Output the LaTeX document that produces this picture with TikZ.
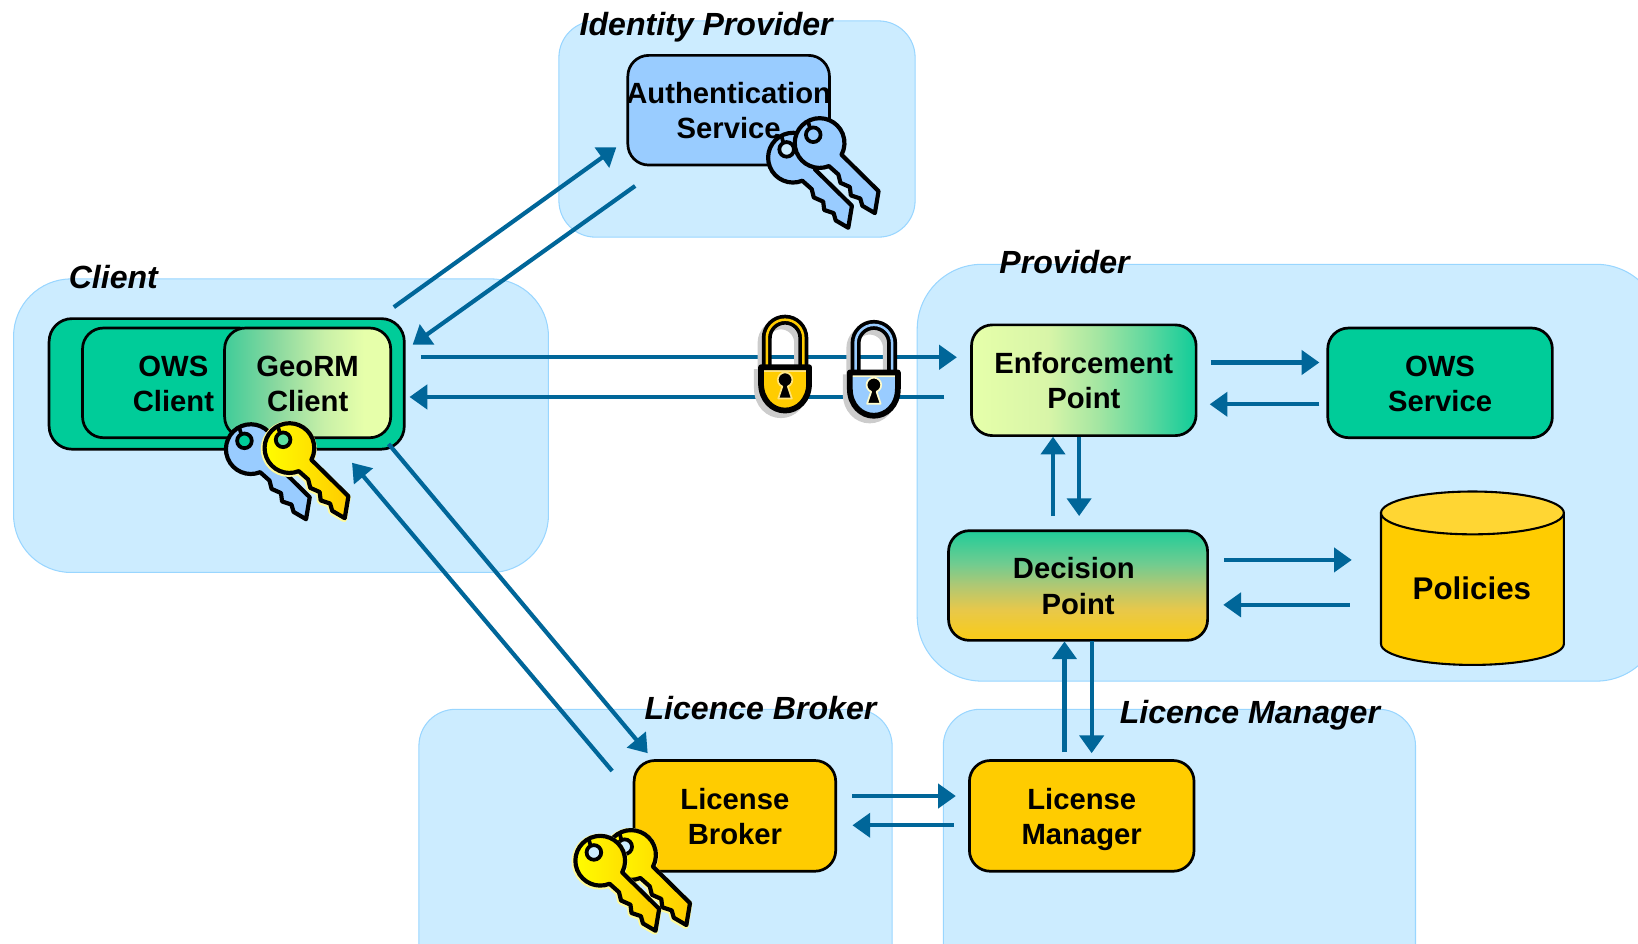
\documentclass[tikz,border=0pt]{standalone}
\usepackage{fontspec}
\setmainfont{Liberation Sans}
\usetikzlibrary{arrows.meta}
\definecolor{regionfill}{HTML}{CCECFF}
\definecolor{regionline}{HTML}{99D6FF}
\definecolor{teal}{HTML}{00CC99}
\definecolor{lime}{HTML}{E6FFAA}
\definecolor{gold}{HTML}{FFCC00}
\definecolor{sky}{HTML}{99CCFF}
\definecolor{flowc}{HTML}{006699}
\definecolor{lockshadow}{HTML}{CCCCCC}
\definecolor{ea}{HTML}{D8F5A8}\definecolor{eb}{HTML}{A5E6A2}\definecolor{ec}{HTML}{60D89F}\definecolor{ed}{HTML}{10CC99}
\definecolor{ga}{HTML}{40CC99}\definecolor{gb}{HTML}{88D89F}\definecolor{gc}{HTML}{C8F0A8}
\definecolor{da}{HTML}{FACC15}\definecolor{db}{HTML}{E8C84A}\definecolor{dc}{HTML}{B0C873}\definecolor{dd}{HTML}{70CC90}\definecolor{de}{HTML}{20CC99}
\pgfdeclarehorizontalshading{enfshade}{100bp}{color(0bp)=(lime); color(25bp)=(lime); color(42bp)=(ea); color(53bp)=(eb); color(64bp)=(ec); color(75bp)=(ed); color(100bp)=(ed)}
\pgfdeclarehorizontalshading{geoshade}{100bp}{color(0bp)=(ga); color(25bp)=(ga); color(40bp)=(gb); color(55bp)=(gc); color(67bp)=(lime); color(100bp)=(lime)}
\pgfdeclareverticalshading{decshade}{100bp}{color(0bp)=(da); color(25bp)=(da); color(39bp)=(db); color(50bp)=(dc); color(60bp)=(dd); color(75bp)=(de); color(100bp)=(de)}
\newcommand{\twolines}[2]{\rule{0pt}{27pt}#1\\#2\rule[-6pt]{0pt}{6pt}}
\tikzset{
  region/.style={fill=regionfill,draw=regionline,line width=1pt},
  box/.style={draw=black,line width=2.6pt,rounded corners=20pt,inner sep=0pt,align=center,
    font=\fontsize{28}{34}\selectfont\bfseries},
  regionlabel/.style={inner sep=0pt,font=\fontsize{30.7}{34}\selectfont\bfseries\itshape},
  flow/.style={draw=flowc,line width=4pt,-{Triangle[length=17pt,width=23pt]}},
  keyline/.style={draw=black,line width=4pt,line join=round},
}
\newcommand{\keypath}{(21,11) -- (56.5,46) -- (53,67) -- (41,60) -- (39,53) -- (30,50) -- (29,42) -- (20,38) -- (18,30) -- (9,22) arc[start angle=68,end angle=387.6,radius=23.8] -- cycle}
\newcommand{\drawkey}[5]{% x, y, fill options, hole colour, halo colour
  \begin{scope}[shift={(#1,#2)}]
    \draw[#5,line width=6pt,line join=round,shift={(-0.6,0.8)}] \keypath;
    \path[#3] \keypath;
    \draw[keyline] \keypath;
    \draw[fill=#4,draw=black,line width=3.6pt] (-6,-8) circle[radius=7];
    \draw[black,line width=3.6pt] (-9,-14) -- (-11,-21);
  \end{scope}}
\newcommand{\lockbody}{(-23,2.5) -- (23,2.5) -- (23,18) .. controls (23,34) and (12,44) .. (0,44) .. controls (-12,44) and (-23,34) .. (-23,18) -- cycle}
\newcommand{\lockbow}{(-17.5,2) -- (-17.5,-25.5) arc[start angle=180,end angle=360,radius=17.5] -- (17.5,2)}
\newcommand{\drawlock}[5]{% x, y, body, bow, band
  \begin{scope}[shift={(#1,#2)}]
    \begin{scope}[shift={(-4,4.5)}]
      \draw[lockshadow,line width=9.5pt] \lockbow;
      \fill[lockshadow,draw=lockshadow,line width=5.5pt] \lockbody;
    \end{scope}
    \draw[black,line width=9.5pt] \lockbow;
    \draw[#4,line width=2.4pt] \lockbow;
    \fill[#3] \lockbody;
    \draw[#5,line width=2.2pt] (-20.5,6.2) -- (20.5,6.2);
    \draw[black,line width=5.5pt,line join=round] \lockbody;
    \draw[#5,line width=1.6pt,fill=black,line join=round] (-2.6,21) arc[start angle=112,end angle=428,radius=7] -- (6.5,32.5) -- (-6.5,32.5) -- cycle;
  \end{scope}}
\begin{document}
\begin{tikzpicture}[x=1pt,y=1pt,yscale=-1]
\clip (0,0) rectangle (1568,902.7);
% regions
\path[region,rounded corners=55pt] (13,267) rectangle (525,548);
\path[region,rounded corners=35pt] (535,20) rectangle (876,227);
\path[region,rounded corners=62pt] (878,253) rectangle (1590,652);
\path[region,rounded corners=35pt] (401,679) rectangle (854,960);
\path[region,rounded corners=35pt] (903,679) rectangle (1355,960);
% region labels
\node[regionlabel] (lblClient) at (108.5,265) {Client};
\node[regionlabel] (lblIdp) at (676,26) {Identity Provider};
\node[regionlabel] (lblProv) at (1019,251) {Provider};
\node[regionlabel] (lblBroker) at (728,678) {Licence Broker};
\node[regionlabel] (lblMgr) at (1196.5,685) {Licence Manager};
% boxes
\node[box,fill=teal,minimum width=340pt,minimum height=125pt,rounded corners=22pt] (clientbox) at (217,367.5) {};
\node[box,fill=teal,minimum width=170pt,minimum height=105pt] (owsclient) at (164,366.5) {};
\node[box,inner sep=0pt,draw=none,rounded corners=0pt] (owstext) at (166,366.5) {\twolines{OWS}{Client}};
\node[box,shade,shading=geoshade,minimum width=159pt,minimum height=105pt] (georm) at (294.5,366.5) {\twolines{GeoRM}{Client}};
\node[box,fill=sky,minimum width=193pt,minimum height=105pt] (auth) at (697.5,105.5) {\twolines{\makebox[150pt]{Authentication}}{Service}};
\node[box,shade,shading=enfshade,minimum width=215pt,minimum height=106pt] (enf) at (1037.5,364) {\twolines{Enforcement}{Point}};
\node[box,fill=teal,minimum width=215pt,minimum height=105pt] (ows) at (1378.5,366.5) {\twolines{OWS}{Service}};
\node[box,shade,shading=decshade,minimum width=248pt,minimum height=105pt] (dec) at (1032,560.5) {\twolines{Decision\hspace*{8pt}}{Point}};
\node[box,fill=gold,minimum width=193pt,minimum height=106pt] (lb) at (703.5,781) {\twolines{License}{Broker}};
\node[box,fill=gold,minimum width=215pt,minimum height=106pt] (lm) at (1035.5,781) {\twolines{License}{Manager}};
% policies cylinder
\draw[fill=gold,draw=black,line width=2pt] (1322,491) -- (1322,616.5) arc[start angle=180,end angle=0,x radius=87.5,y radius=20] -- (1497,491) -- cycle;
\draw[fill=gold!80!white,draw=black,line width=2pt] (1409.5,491) ellipse[x radius=87.5,y radius=20.5];
\node[inner sep=0pt,font=\fontsize{30}{34}\selectfont\bfseries] (policies) at (1409,563) {Policies};
% connector end points
\coordinate (a1) at (377,294);   \coordinate (b1) at (590,141);
\coordinate (a2) at (608,178);   \coordinate (b2) at (395,330);
\coordinate (a3) at (403,342);   \coordinate (b3) at (916,342);
\coordinate (a4) at (904,380);   \coordinate (b4) at (392,380);
\coordinate (a5) at (372,425);   \coordinate (b5) at (620,721);
\coordinate (a6) at (586,738);   \coordinate (b6) at (337,443);
\coordinate (a7) at (1159,347);  \coordinate (b7) at (1263,347);
\coordinate (a8) at (1263,387);  \coordinate (b8) at (1158,387);
\coordinate (a9) at (1008,494);  \coordinate (b9) at (1008,418);
\coordinate (a10) at (1033,418); \coordinate (b10) at (1033,494);
\coordinate (a11) at (1172,536); \coordinate (b11) at (1294,536);
\coordinate (a12) at (1292,579); \coordinate (b12) at (1171,579);
\coordinate (a13) at (1019,720); \coordinate (b13) at (1019,614);
\coordinate (a14) at (1045,614); \coordinate (b14) at (1045,721);
\coordinate (a15) at (816,762);  \coordinate (b15) at (915,762);
\coordinate (a16) at (913,790);  \coordinate (b16) at (816,790);
\foreach \n in {1,...,16} { \draw[flow] (a\n) -- (b\n); }
% locks
\drawlock{751.5}{349}{gold}{gold}{gold!50!white}
\drawlock{836.5}{354}{sky}{sky}{yellow!20!white}
% keys
\drawkey{240}{430}{fill=sky}{teal}{draw=none}
\drawkey{277}{429}{left color=yellow,right color=gold}{teal!60!lime}{yellow!40!white}
\drawkey{759}{151}{fill=sky}{regionfill}{draw=none}
\drawkey{784.5}{137}{fill=sky}{sky}{draw=none}
\drawkey{604}{818.5}{left color=yellow,right color=gold}{regionfill}{yellow!40!white}
\drawkey{574.5}{824}{left color=yellow,right color=gold}{regionfill}{yellow!40!white}
\end{tikzpicture}
\end{document}
